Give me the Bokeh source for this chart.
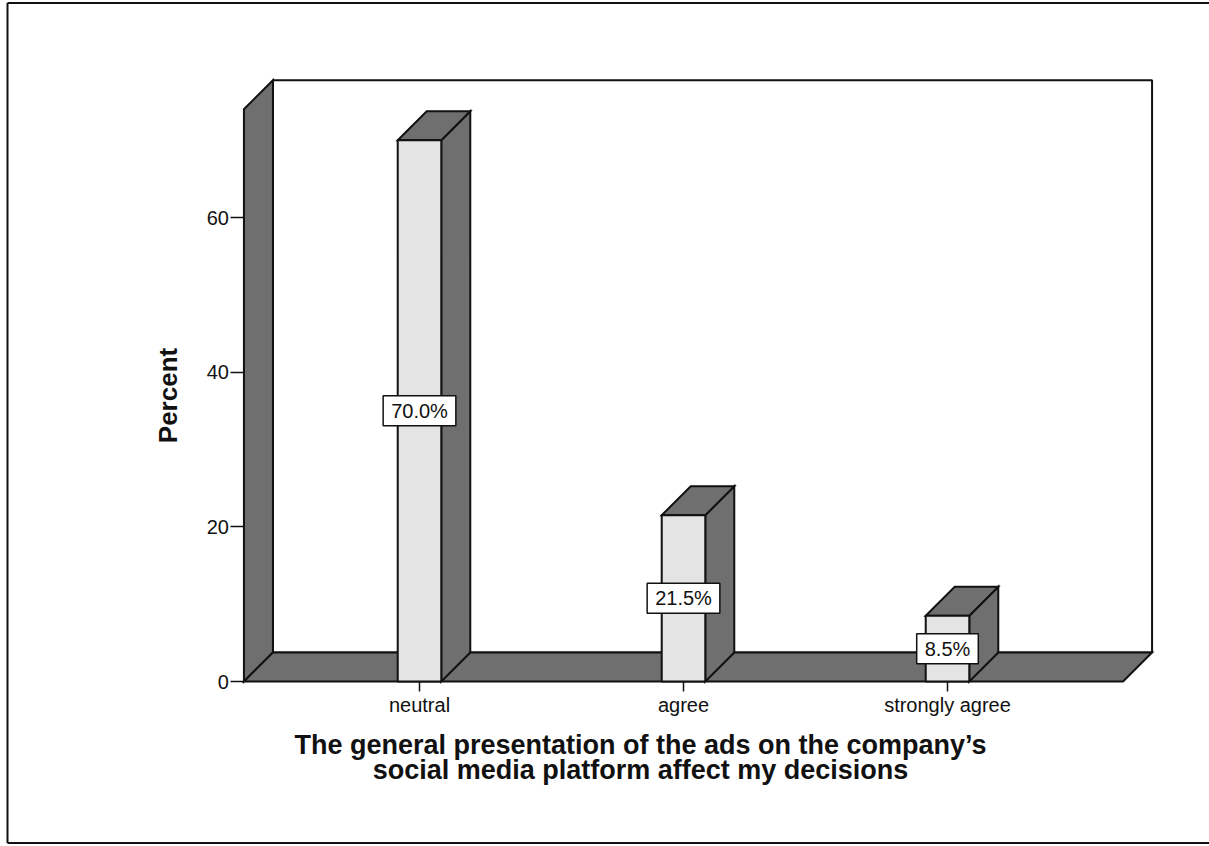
from bokeh.plotting import figure
from bokeh.models import (Range1d, LinearAxis, FixedTicker, ColumnDataSource,
                          Label)
from bokeh.core.properties import value
from bokeh.embed import file_html
from bokeh.resources import INLINE

# ---- data -------------------------------------------------------------
categories = ["neutral", "agree", "strongly agree"]
percents = [70.0, 21.5, 8.5]
value_labels = ["70.0%", "21.5%", "8.5%"]
y_ticks = [0, 20, 40, 60]
y_title = "Percent"
x_title_lines = [
    "The general presentation of the ads on the company\u2019s",
    "social media platform affect my decisions",
]

# ---- layout / style ----------------------------------------------------
W, H = 1209, 846
PX_X = 264.0          # pixels per category step
PX_Y = 7.733          # pixels per percent
ORIGIN_X, ORIGIN_Y = 419, 681   # canvas pixel of first category at 0 %

DEPTH_X = 29 / PX_X   # 3-D depth offset in data units
DEPTH_Y = 29 / PX_Y
BAR_W = 0.165
FLOOR_LO, FLOOR_HI = 0.335, 3.665
WALL_TOP = 74.0

DARK = "#6f6f6f"
LIGHT = "#e4e4e4"
EDGE = "#111111"
FONT = "Liberation Sans"

xs = [i + 1 for i in range(len(categories))]

x_lo, x_hi = 1 - ORIGIN_X / PX_X, 1 + (W - ORIGIN_X) / PX_X
y_lo, y_hi = -(H - ORIGIN_Y) / PX_Y, ORIGIN_Y / PX_Y

p = figure(
    width=W, height=H,
    x_range=Range1d(x_lo, x_hi), y_range=Range1d(y_lo, y_hi),
    x_axis_type=None, y_axis_type=None,
    toolbar_location=None, output_backend="svg",
    min_border=0, min_border_left=0, min_border_right=0,
    min_border_top=0, min_border_bottom=0,
)
p.outline_line_color = None
p.background_fill_color = "white"
p.border_fill_color = "white"

lw = 2

# page border: left, top and bottom edges only (open on the right)
bx = x_lo + 7 / PX_X
by_top = y_hi - 2.5 / PX_Y
by_bot = y_lo + 3.5 / PX_Y
p.segment(x0=[bx, bx, bx], y0=[by_bot, by_top, by_bot],
          x1=[bx, x_hi, x_hi], y1=[by_top, by_top, by_bot],
          line_color=EDGE, line_width=2)

# back wall
p.quad(left=FLOOR_LO + DEPTH_X, right=FLOOR_HI + DEPTH_X,
       bottom=DEPTH_Y, top=WALL_TOP + DEPTH_Y,
       fill_color="white", line_color=EDGE, line_width=lw)

# left wall
p.patch([FLOOR_LO, FLOOR_LO + DEPTH_X, FLOOR_LO + DEPTH_X, FLOOR_LO],
        [0, DEPTH_Y, WALL_TOP + DEPTH_Y, WALL_TOP],
        fill_color=DARK, line_color=EDGE, line_width=lw, line_join="miter")

# floor
p.patch([FLOOR_LO, FLOOR_HI, FLOOR_HI + DEPTH_X, FLOOR_LO + DEPTH_X],
        [0, 0, DEPTH_Y, DEPTH_Y],
        fill_color=DARK, line_color=EDGE, line_width=lw, line_join="miter")

# bars: side faces, top faces, front faces
side_x, side_y, top_x, top_y = [], [], [], []
for x, v in zip(xs, percents):
    r = x + BAR_W / 2
    l = x - BAR_W / 2
    side_x.append([r, r + DEPTH_X, r + DEPTH_X, r])
    side_y.append([0, DEPTH_Y, v + DEPTH_Y, v])
    top_x.append([l, l + DEPTH_X, r + DEPTH_X, r])
    top_y.append([v, v + DEPTH_Y, v + DEPTH_Y, v])

p.patches(side_x, side_y, fill_color=DARK, line_color=EDGE,
          line_width=lw, line_join="miter")
p.patches(top_x, top_y, fill_color=DARK, line_color=EDGE,
          line_width=lw, line_join="miter")

src = ColumnDataSource(dict(
    x=xs, top=percents, mid=[v / 2 for v in percents], label=value_labels))
p.vbar(x="x", top="top", bottom=0, width=BAR_W, source=src,
       fill_color=LIGHT, line_color=EDGE, line_width=lw)

# value labels in boxed text
p.text(x="x", y="mid", text="label", source=src,
       text_align="center", text_baseline="middle",
       text_font=value(FONT), text_font_size="20px", text_color="#111111",
       background_fill_color="white", border_line_color=EDGE,
       border_line_width=1.5,
       padding=dict(left=8, right=8, top=4, bottom=4))

# y axis on the left wall
yaxis = LinearAxis(
    fixed_location=FLOOR_LO, ticker=FixedTicker(ticks=y_ticks),
    bounds=(0, WALL_TOP), axis_label=y_title,
)
yaxis.axis_line_color = None
yaxis.major_tick_out = 13
yaxis.major_tick_in = 0
yaxis.major_tick_line_width = 1.5
yaxis.major_tick_line_color = EDGE
yaxis.minor_tick_line_color = None
yaxis.major_label_standoff = 2
yaxis.major_label_text_font = FONT
yaxis.major_label_text_font_size = "20px"
yaxis.major_label_text_color = "#111111"
yaxis.axis_label_text_font = FONT
yaxis.axis_label_text_font_size = "26px"
yaxis.axis_label_text_font_style = "bold"
yaxis.axis_label_text_color = "#111111"
yaxis.axis_label_standoff = 20
p.add_layout(yaxis, "left")

# category axis along the floor front edge
xaxis = LinearAxis(
    fixed_location=0, ticker=FixedTicker(ticks=xs),
    major_label_overrides={x: c for x, c in zip(xs, categories)},
    bounds=(FLOOR_LO, FLOOR_HI),
)
xaxis.axis_line_color = None
xaxis.major_tick_out = 10
xaxis.major_tick_in = 0
xaxis.major_tick_line_width = 1.5
xaxis.major_tick_line_color = EDGE
xaxis.minor_tick_line_color = None
xaxis.major_label_standoff = 2
xaxis.major_label_text_font = FONT
xaxis.major_label_text_font_size = "20px"
xaxis.major_label_text_color = "#111111"
p.add_layout(xaxis, "below")

# two-line category-axis title
for i, line in enumerate(x_title_lines):
    p.add_layout(Label(
        x=640, y=H - 744 - i * 25, x_units="screen", y_units="screen",
        text=line, text_align="center", text_baseline="middle",
        text_font=FONT, text_font_size="27px", text_font_style="bold",
        text_color="#111111",
    ))

open("out.html", "w").write(file_html(p, INLINE))
